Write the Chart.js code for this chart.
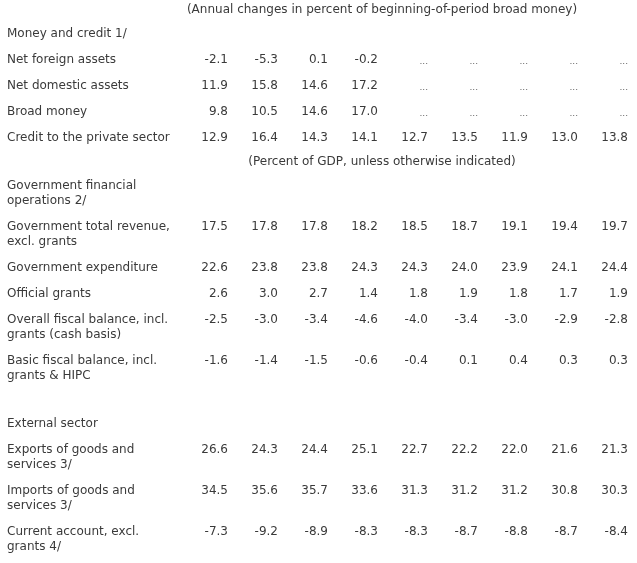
<!DOCTYPE html>
<html>
<head>
<meta charset="utf-8">
<script src="https://cdn.jsdelivr.net/npm/chart.js@4/dist/chart.umd.min.js"></script>
<style>
  html, body { margin: 0; padding: 0; background: #fff; }
  #wrap { width: 637px; height: 563px; }
</style>
</head>
<body>
<div id="wrap"><canvas id="tabela" width="637" height="563"></canvas></div>
<script>
// column keys (the table shows no header row)
const colunas = ['c1', 'c2', 'c3', 'c4', 'c5', 'c6', 'c7', 'c8', 'c9'];

const titulos = [
    '(Annual changes in percent of beginning-of-period broad money)',
    '(Percent of GDP, unless otherwise indicated)'
];

const secoes = ['Money and credit 1/', 'Government financial\noperations 2/', 'External sector'];

const moedaLabels = ['Net foreign assets', 'Net domestic assets', 'Broad money', 'Credit to the private sector'];
const moedaValores = [
    [-2.1, -5.3, 0.1, -0.2, null, null, null, null, null],
    [11.9, 15.8, 14.6, 17.2, null, null, null, null, null],
    [9.8, 10.5, 14.6, 17.0, null, null, null, null, null],
    [12.9, 16.4, 14.3, 14.1, 12.7, 13.5, 11.9, 13.0, 13.8]
];

const govLabels = [
    'Government total revenue,\nexcl. grants',
    'Government expenditure',
    'Official grants',
    'Overall fiscal balance, incl.\ngrants (cash basis)',
    'Basic fiscal balance, incl.\ngrants & HIPC'
];
const govValores = [
    [17.5, 17.8, 17.8, 18.2, 18.5, 18.7, 19.1, 19.4, 19.7],
    [22.6, 23.8, 23.8, 24.3, 24.3, 24.0, 23.9, 24.1, 24.4],
    [2.6, 3.0, 2.7, 1.4, 1.8, 1.9, 1.8, 1.7, 1.9],
    [-2.5, -3.0, -3.4, -4.6, -4.0, -3.4, -3.0, -2.9, -2.8],
    [-1.6, -1.4, -1.5, -0.6, -0.4, 0.1, 0.4, 0.3, 0.3]
];

const extLabels = [
    'Exports of goods and\nservices 3/',
    'Imports of goods and\nservices 3/',
    'Current account, excl.\ngrants 4/'
];
const extValores = [
    [26.6, 24.3, 24.4, 25.1, 22.7, 22.2, 22.0, 21.6, 21.3],
    [34.5, 35.6, 35.7, 33.6, 31.3, 31.2, 31.2, 30.8, 30.3],
    [-7.3, -9.2, -8.9, -8.3, -8.3, -8.7, -8.8, -8.7, -8.4]
];

const FONTE = "12px 'DejaVu Sans', Verdana, sans-serif";
const COR = '#3a3a3a';

// build the row list in display order
function montarLinhas() {
    const linhas = [];
    linhas.push({tipo: 'titulo', texto: titulos[0]});
    linhas.push({tipo: 'secao', texto: secoes[0]});
    moedaLabels.forEach((l, i) => linhas.push({tipo: 'dado', texto: l, valores: moedaValores[i]}));
    linhas.push({tipo: 'titulo', texto: titulos[1]});
    linhas.push({tipo: 'secao', texto: secoes[1]});
    govLabels.forEach((l, i) => linhas.push({tipo: 'dado', texto: l, valores: govValores[i]}));
    linhas.push({tipo: 'vazio', texto: ''});
    linhas.push({tipo: 'secao', texto: secoes[2]});
    extLabels.forEach((l, i) => linhas.push({tipo: 'dado', texto: l, valores: extValores[i]}));

    // row heights like the html table: 26 for one line, +15 per extra line
    let topo = -1;
    linhas.forEach((ln) => {
        const nLinhas = ln.texto.split('\n').length;
        const altura = (ln.tipo === 'titulo' || ln.tipo === 'vazio') ? 22 : 26 + 15 * (nLinhas - 1);
        const meio = (ln.tipo === 'titulo' || ln.tipo === 'vazio') ? 11 : 13;
        ln.y = topo + meio;
        topo += altura;
    });
    return linhas;
}

const linhas = montarLinhas();

const textoTabela = {
    id: 'textoTabela',
    afterDatasetsDraw(chart) {
        const ctx = chart.ctx;
        const sx = chart.scales.x;
        const sy = chart.scales.y;
        const meiaColuna = (sx.getPixelForValue(1) - sx.getPixelForValue(0)) / 2;
        ctx.save();
        ctx.fillStyle = COR;
        ctx.font = FONTE;
        ctx.textBaseline = 'middle';

        linhas.forEach((ln) => {
            const y = sy.getPixelForValue(ln.y);
            if (ln.tipo === 'titulo') {
                ctx.textAlign = 'center';
                ctx.fillText(ln.texto, sx.getPixelForValue(3.58), y);
            } else if (ln.texto) {
                ctx.textAlign = 'left';
                ln.texto.split('\n').forEach((t, k) => ctx.fillText(t, 7, y + k * 15));
            }
        });

        chart.data.datasets.forEach((ds, di) => {
            const meta = chart.getDatasetMeta(di);
            meta.data.forEach((pt, i) => {
                const v = ds.valores[i];
                ctx.textAlign = 'right';
                if (v === null) {
                    ctx.font = "9px 'DejaVu Sans', Verdana, sans-serif";
                    ctx.fillStyle = '#666';
                    ctx.fillText('...', pt.x + meiaColuna, pt.y + 2);
                    ctx.font = FONTE;
                    ctx.fillStyle = COR;
                } else {
                    ctx.fillText(v.toFixed(1), pt.x + meiaColuna, pt.y);
                }
            });
        });
        ctx.restore();
    }
};

function criarTabela() {
    const ctx = document.getElementById('tabela');
    const datasets = linhas.filter((ln) => ln.tipo === 'dado').map((ln) => ({
        label: ln.texto,
        valores: ln.valores,
        data: colunas.map((c, i) => ({x: i, y: ln.y})),
        pointRadius: 0,
        showLine: false
    }));
    return new Chart(ctx, {
        type: 'scatter',
        data: { datasets: datasets },
        options: {
            responsive: false,
            animation: false,
            layout: { padding: { left: 178, right: 9, top: 0, bottom: 0 } },
            scales: {
                x: { type: 'linear', min: -0.5, max: 8.5, display: false },
                y: { type: 'linear', min: 0, max: 563, reverse: true, display: false }
            },
            plugins: {
                legend: { display: false },
                tooltip: { enabled: false }
            }
        },
        plugins: [textoTabela]
    });
}

criarTabela();
</script>
</body>
</html>
